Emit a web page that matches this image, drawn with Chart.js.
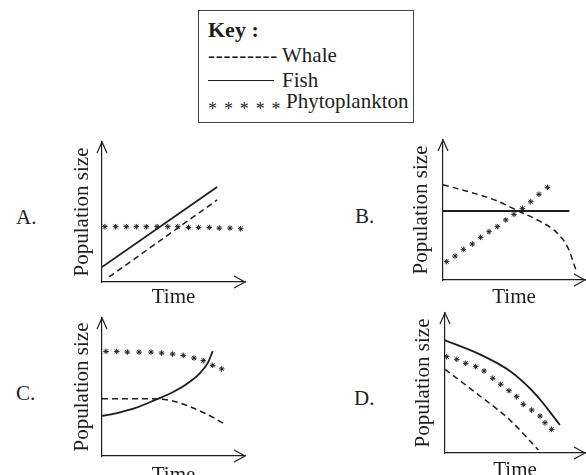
<!DOCTYPE html>
<html>
<head>
<meta charset="utf-8">
<title>Population size against time</title>
<script src="https://cdn.jsdelivr.net/npm/chart.js@4"></script>
<style>
	body {
		margin: 0;
		width: 586px;
		height: 475px;
		overflow: hidden;
		position: relative;
		background: #fff;
		font-family: 'Liberation Serif', 'Times New Roman', serif;
		color: #1e1e1e;
	}

	.txt {
		position: absolute;
		white-space: nowrap;
		font-size: 21px;
		line-height: 24px;
	}

	canvas {
		position: absolute;
	}

	#key {
		position: absolute;
		left: 198px;
		top: 10px;
		width: 216px;
		height: 113px;
		border: 1px solid #444;
		box-sizing: border-box;
	}

	.mark {
		display: inline-block;
		width: 74px;
	}
</style>
</head>

<body>
	<div id="key"></div>
	<div class="txt" style="left:208px; top:18px; font-size:22px; font-weight:bold;">Key :</div>
	<div class="txt" style="left:208px; top:43px;"><span class="mark" style="letter-spacing:0.8px;">---------</span>Whale</div>
	<div class="txt" style="left:208px; top:68px;"><span class="mark"></span>Fish</div>
	<div style="position:absolute; left:208px; top:80px; width:66px; border-top:1.3px solid #1e1e1e;"></div>
	<div class="txt" style="left:208px; top:89px;"><span class="mark" style="width:78px; position:relative; top:7px; font-size:18px; letter-spacing:1.2px;">* * * * *</span>Phytoplankton</div>

	<div class="txt" style="left:16px; top:205px;">A.</div>
	<div class="txt" style="left:355px; top:204px;">B.</div>
	<div class="txt" style="left:16px; top:381px;">C.</div>
	<div class="txt" style="left:354px; top:386px;">D.</div>

	<script>
		// values, 0-100 along each axis (origin to arrow tip)
		var aFishX = [ 0, 80.5 ];
		var aFishY = [ 10.7, 67.8 ];
		var aWhaleX = [ 5, 80.5 ];
		var aWhaleY = [ 3.6, 58.6 ];
		var aPhytoX = [ 2, 9.5, 17, 24, 31, 38.5, 46, 53, 60.5, 67.5, 75, 82, 89.5, 97 ];
		var aPhytoY = [ 39.5, 39.5, 39.5, 39.5, 39.5, 39.5, 39.5, 39.5, 39, 39, 39, 38.5, 38.5, 38 ];

		var bFishX = [ 0, 89 ];
		var bFishY = [ 49.3, 49.3 ];
		var bWhaleX = [ 0, 20, 38, 53, 68, 80, 88, 94 ];
		var bWhaleY = [ 68, 62.5, 56.5, 49.3, 42, 34, 23, 6 ];
		var bPhytoX = [ 2.6, 8.5, 14.3, 20.6, 26.5, 32.4, 38.2, 44.2, 50, 55.9, 61.8, 67.6, 73.5 ];
		var bPhytoY = [ 13.1, 17.1, 21.9, 25.7, 30.5, 34.5, 38.1, 42.9, 46.9, 51.2, 55.9, 61.2, 66.2 ];

		var cFishX = [ 0, 12, 24, 38, 48, 59, 68, 74, 77.4 ];
		var cFishY = [ 29, 31.5, 35, 41, 45.5, 52, 59.5, 67.5, 76 ];
		var cWhaleX = [ 0, 20, 40, 54, 66, 78, 87 ];
		var cWhaleY = [ 41.5, 41.5, 41.3, 38.6, 33.8, 27.8, 22.3 ];
		var cPhytoX = [ 2.8, 10.3, 17.7, 25.9, 34.3, 41.7, 49.4, 56.8, 64.3, 70.8, 77.4, 83.7 ];
		var cPhytoY = [ 75.8, 75.8, 75.3, 75.3, 75.3, 74.6, 73.9, 72.9, 71, 69.1, 65.7, 63.1 ];

		var dFishX = [ 0, 22.6, 46.4, 65.5, 82.1 ];
		var dFishY = [ 80.5, 71.5, 58.5, 41, 20 ];
		var dWhaleX = [ 0, 22.6, 46.4, 66.7 ];
		var dWhaleY = [ 59.8, 42.5, 23.6, 2.1 ];
		var dPhytoX = [ 1.2, 8.4, 14.8, 21.9, 27.9, 34.1, 39.8, 45.7, 51.2, 55.9, 61.9, 67.9, 71.4, 76.2 ];
		var dPhytoY = [ 68.8, 66.9, 64.1, 61.7, 58.6, 53.4, 49.1, 44.5, 40.2, 34.8, 30.7, 26.4, 21.6, 16.9 ];

		var ink = '#1e1e1e';
		var titleFont = { family: "'Liberation Serif', 'Times New Roman', serif", size: 21, lineHeight: '24px' };

		function pts( xs, ys ) {
			return xs.map( function( x, i ) { return { x: x, y: ys[ i ] }; } );
		}

		function whale( xs, ys ) {
			return { data: pts( xs, ys ), borderColor: ink, borderWidth: 1.5, borderDash: [ 6, 4 ],
				pointRadius: 0, cubicInterpolationMode: 'monotone', fill: false };
		}

		function fish( xs, ys ) {
			return { data: pts( xs, ys ), borderColor: ink, borderWidth: 1.8,
				pointRadius: 0, cubicInterpolationMode: 'monotone', fill: false };
		}

		function phyto( xs, ys ) {
			return { data: pts( xs, ys ), showLine: false, pointStyle: 'star', pointRadius: 2.8,
				pointBorderColor: ink, pointBorderWidth: 1 };
		}

		// open arrowheads at the ends of both axes
		var arrows = {
			id: 'arrows',
			afterDraw: function( chart ) {
				var ctx = chart.ctx;
				var a = chart.chartArea;
				ctx.save();
				ctx.strokeStyle = ink;
				ctx.lineWidth = 1.2;
				ctx.beginPath();
				ctx.moveTo( a.left - 5, a.top + 11 );
				ctx.lineTo( a.left, a.top );
				ctx.lineTo( a.left + 5, a.top + 11 );
				ctx.moveTo( a.right - 11, a.bottom - 6 );
				ctx.lineTo( a.right, a.bottom );
				ctx.lineTo( a.right - 11, a.bottom + 6 );
				ctx.stroke();
				ctx.restore();
			}
		};

		var panels = [
			{ ox: 102, oy: 282, tx: 245, ty: 142, yPad: 8, xPad: 3,
				sets: [ phyto( aPhytoX, aPhytoY ), fish( aFishX, aFishY ), whale( aWhaleX, aWhaleY ) ] },
			{ ox: 443, oy: 280, tx: 585, ty: 140, yPad: 10, xPad: 5,
				sets: [ phyto( bPhytoX, bPhytoY ), fish( bFishX, bFishY ), whale( bWhaleX, bWhaleY ) ] },
			{ ox: 102, oy: 456, tx: 245, ty: 318, yPad: 8, xPad: 7,
				sets: [ phyto( cPhytoX, cPhytoY ), fish( cFishX, cFishY ), whale( cWhaleX, cWhaleY ) ] },
			{ ox: 445, oy: 453, tx: 585, ty: 313, yPad: 10, xPad: 5,
				sets: [ phyto( dPhytoX, dPhytoY ), fish( dFishX, dFishY ), whale( dWhaleX, dWhaleY ) ] }
		];

		panels.forEach( function( p ) {
			var c = document.createElement( 'canvas' );
			var left = p.ox - 24 - p.yPad;
			var top = p.ty - 8;
			c.width = p.tx + 8 - left;
			c.height = p.oy + 24 + p.xPad + 2 - top;
			c.style.left = left + 'px';
			c.style.top = top + 'px';
			document.body.appendChild( c );

			new Chart( c, {
				type: 'line',
				data: { datasets: p.sets },
				plugins: [ arrows ],
				options: {
					responsive: false,
					animation: false,
					events: [],
					layout: { padding: { top: 8, right: 8, bottom: 0, left: 0 } },
					plugins: { legend: { display: false }, tooltip: { enabled: false } },
					scales: {
						x: {
							type: 'linear', position: 'bottom', min: 0, max: 100,
							ticks: { display: false },
							grid: { display: false, drawTicks: false },
							border: { display: true, color: ink, width: 1.2 },
							title: { display: true, text: 'Time', color: ink, font: titleFont,
								padding: { top: p.xPad, bottom: 2 } }
						},
						y: {
							type: 'linear', position: 'left', min: 0, max: 100,
							ticks: { display: false },
							grid: { display: false, drawTicks: false },
							border: { display: true, color: ink, width: 1.2 },
							title: { display: true, text: 'Population size', color: ink, font: titleFont,
								padding: { top: 0, bottom: p.yPad } }
						}
					}
				}
			});
		});
	</script>
</body>
</html>
